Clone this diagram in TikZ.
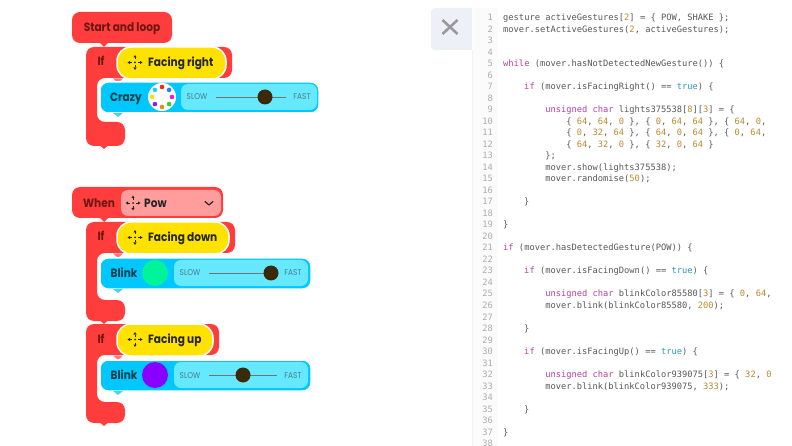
\documentclass[tikz,border=0pt]{standalone}
\usepackage{fontspec}
\usetikzlibrary{calc}
\setmonofont{DejaVu Sans Mono}
\newfontfamily\blockfont[FakeStretch=0.88]{Poppins}
\definecolor{redb}{HTML}{FF3D3D}
\definecolor{pinkb}{HTML}{FF9C9C}
\definecolor{yellowb}{HTML}{FFE200}
\definecolor{blueb}{HTML}{00C8FF}
\definecolor{sliderb}{HTML}{66E9FF}
\definecolor{knobc}{HTML}{3A2A0A}
\definecolor{kwc}{HTML}{B8409E}
\definecolor{numc}{HTML}{BC8A30}
\definecolor{truec}{HTML}{2A97C4}
\definecolor{codec}{HTML}{585858}
\definecolor{gutterc}{HTML}{FBFBFB}
\definecolor{smallc}{HTML}{4A7C8C}
\definecolor{closec}{HTML}{EEF0F8}
\definecolor{greenb}{HTML}{00F59B}
\definecolor{purpleb}{HTML}{8A00FF}
\definecolor{labelred}{HTML}{6E1712}
\definecolor{labelblue}{HTML}{063F4C}
\tikzset{
  redblock/.style={fill=redb,rounded corners=8pt},
  yellowpill/.style={fill=yellowb,draw=white,line width=1.5pt,rounded corners=14pt},
  blueblock/.style={fill=blueb,draw=white,line width=1.5pt,rounded corners=8pt},
  sliderbox/.style={fill=sliderb,rounded corners=7pt},
  lbl/.style={font=\blockfont\fontsize{12}{14}\selectfont\bfseries,inner sep=0pt,anchor=base},
  lbll/.style={lbl,anchor=base west,text=black!85},
  smalllbl/.style={font=\blockfont\fontsize{8.4}{10}\selectfont,inner sep=0pt,anchor=base,text=smallc},
  code/.style={font=\ttfamily\fontsize{8.74}{10}\selectfont,text=codec,inner sep=0pt,anchor=base west},
  lnum/.style={font=\ttfamily\fontsize{8.74}{10}\selectfont,text=black!32,inner sep=0pt,anchor=base east}
}
\newcommand{\kw}[1]{\textcolor{kwc}{#1}}
\newcommand{\nm}[1]{\textcolor{numc}{#1}}
\newcommand{\tru}[1]{\textcolor{truec}{#1}}
\newcommand{\cl}[3]{\node[code] (c#1) at ({503+#2*5.26},{20.5+(#1-1)*11.52}) {#3};}
% gesture icon
\newcommand{\gest}[2]{%
  \begin{scope}[shift={(#1,#2)}]
    \fill[black!85] (0,0) circle (1);
    \draw[black!85,line width=.8pt] (-5,0)--(-3,0) (3,0)--(5,0) (0,-5)--(0,-3) (0,3)--(0,5);
    \fill[black!85] (-7.5,0)--(-5,-1.6)--(-5,1.6)--cycle (7.5,0)--(5,-1.6)--(5,1.6)--cycle
      (0,-7.5)--(-1.6,-5)--(1.6,-5)--cycle (0,7.5)--(-1.6,5)--(1.6,5)--cycle;
  \end{scope}}
% if block: #1 name #2 top #3 red right #4 yellow right #5 foot top #6 foot bottom #7 text
\newcommand{\ifblock}[7]{%
  \path[redblock] (86,#2)--(#3,#2)--(#3,#2+31)--(97,#2+31)--(97,#5)--(125,#5)--(125,#6)--(86,#6)--cycle;
  \fill[redb] (100,#6-.5)--(108,#6-.5)--(104,#6+3)--cycle;
  \path[yellowpill] (117,#2)--(#4,#2)--(#4,#2+32)--(117,#2+32)--cycle;
  \fill[redb!70!white] (113,#2+31.5)--(123,#2+31.5)--(118,#2+36)--cycle;
  \node[lbl,text=labelred] (if#1) at (101,#2+19) {If};
  \gest{135}{#2+15.5}
  \node[lbll] (fc#1) at (148,#2+19.5) {#7};
}
\newcommand{\bluebar}[3]{% name top right
  \path[blueblock] (100,#2)--(#3,#2)--(#3,#2+31)--(100,#2+31)--cycle;
  \fill[blueb!75!white] (113,#2+31)--(123,#2+31)--(118,#2+35)--cycle;
}
\newcommand{\slider}[5]{% name x0 x1 ytop knob
  \path[sliderbox] (#2,#4+2)--(#3,#4+2)--(#3,#4+28)--(#2,#4+28)--cycle;
  \node[smalllbl] (sl#1) at (#2+16,#4+18) {SLOW};
  \node[smalllbl] (fa#1) at (#3-15,#4+18) {FAST};
  \coordinate (la#1) at (#2+35,#4+15);
  \coordinate (lb#1) at (#3-31,#4+15);
  \draw[black!55,line width=.9pt] (la#1)--(lb#1);
  \fill[knobc] (#5,#4+15) circle (7.5);
}
\begin{document}
\begin{tikzpicture}[x=1pt,y=-1pt]
\useasboundingbox (0,0) rectangle (792,446);
\fill[white] (0,0) rectangle (792,446);

% --- first stack
\ifblock{a}{47}{232}{226}{122}{146}{Facing right}
\path[redblock] (72,12)--(172,12)--(172,43)--(72,43)--cycle;
\fill[redb] (99,42)--(109,42)--(104,47)--cycle;
\node[lbl,text=labelred] (start) at (122,32) {Start and loop};
\bluebar{a}{82}{319}
\slider{a}{181}{317}{82}{265}
\node[lbl,text=labelblue] (crazy) at (126,101.5) {Crazy};
\fill[white] (162,97) circle (14);
\foreach \ang/\col in {90/FF1E1E,45/2E7BFF,0/E020E0,-45/30D030,-90/E88A10,-135/8A20F0,180/FFE000,135/20D0F0}{
  \definecolor{dotc}{HTML}{\col}
  \fill[dotc] ($(162,97)+({-\ang}:10)$) circle (2.3);
}

% --- second stack
\ifblock{b}{222}{235}{229}{300}{321}{Facing down}
\ifblock{c}{324}{219}{213}{402}{423}{Facing up}
\path[redblock] (72,187)--(223,187)--(223,218)--(72,218)--cycle;
\fill[redb] (99,217)--(109,217)--(104,222)--cycle;
\path[fill=pinkb,rounded corners=7pt] (121,190)--(221,190)--(221,216)--(121,216)--cycle;
\node[lbl,text=labelred] (when) at (99,207.5) {When};
\gest{133}{203}
\node[lbll] (pow) at (144,207.5) {Pow};
\draw[black!85,line width=1.2pt,line cap=round,line join=round] (205,201.5)--(209,205)--(213,201.5);

\bluebar{b}{258}{311}
\slider{b}{174}{308}{258}{271}
\node[lbl,text=labelblue] (blinkb) at (124,277) {Blink};
\fill[greenb] (155,273) circle (13);

\bluebar{c}{360}{311}
\slider{c}{174}{308}{360}{243}
\node[lbl,text=labelblue] (blinkc) at (124,379) {Blink};
\fill[purpleb] (155,375) circle (13);

% --- close tab
\fill[closec] (472,8) [rounded corners=4pt] -- (431,8) -- (431,50) [sharp corners] -- (472,50) -- cycle;
\draw[black!40,line width=2.6pt] (442.5,20)--(457.5,34) (457.5,20)--(442.5,34);

% --- code panel
\fill[gutterc] (473,8) rectangle (498,446);
\fill[black!5] (471.5,50) rectangle (473,446);
\foreach \n in {1,...,38}{
  \node[lnum] (n\n) at (493,{20.5+(\n-1)*11.52}) {\n};
}
\begin{scope}
\clip (498,0) rectangle (770.5,446);
\cl{1}{0}{gesture activeGestures[\nm{2}] = \{ POW, SHAKE \};}
\cl{2}{0}{mover.setActiveGestures(\nm{2}, activeGestures);}
\cl{5}{0}{\kw{while} (mover.hasNotDetectedNewGesture()) \{}
\cl{7}{4}{\kw{if} (mover.isFacingRight() == \tru{true}) \{}
\cl{9}{8}{\kw{unsigned} \kw{char} lights375538[\nm{8}][\nm{3}] = \{}
\cl{10}{12}{\{ \nm{64}, \nm{64}, \nm{0} \}, \{ \nm{0}, \nm{64}, \nm{64} \}, \{ \nm{64}, \nm{0},}
\cl{11}{12}{\{ \nm{0}, \nm{32}, \nm{64} \}, \{ \nm{64}, \nm{0}, \nm{64} \}, \{ \nm{0}, \nm{64},}
\cl{12}{12}{\{ \nm{64}, \nm{32}, \nm{0} \}, \{ \nm{32}, \nm{0}, \nm{64} \}}
\cl{13}{8}{\};}
\cl{14}{8}{mover.show(lights375538);}
\cl{15}{8}{mover.randomise(\nm{50});}
\cl{17}{4}{\}}
\cl{19}{0}{\}}
\cl{21}{0}{\kw{if} (mover.hasDetectedGesture(POW)) \{}
\cl{23}{4}{\kw{if} (mover.isFacingDown() == \tru{true}) \{}
\cl{25}{8}{\kw{unsigned} \kw{char} blinkColor85580[\nm{3}] = \{ \nm{0}, \nm{64},}
\cl{26}{8}{mover.blink(blinkColor85580, \nm{200});}
\cl{28}{4}{\}}
\cl{30}{4}{\kw{if} (mover.isFacingUp() == \tru{true}) \{}
\cl{32}{8}{\kw{unsigned} \kw{char} blinkColor939075[\nm{3}] = \{ \nm{32}, \nm{0}}
\cl{33}{8}{mover.blink(blinkColor939075, \nm{333});}
\cl{35}{4}{\}}
\cl{37}{0}{\}}
\end{scope}
\end{tikzpicture}
\end{document}
